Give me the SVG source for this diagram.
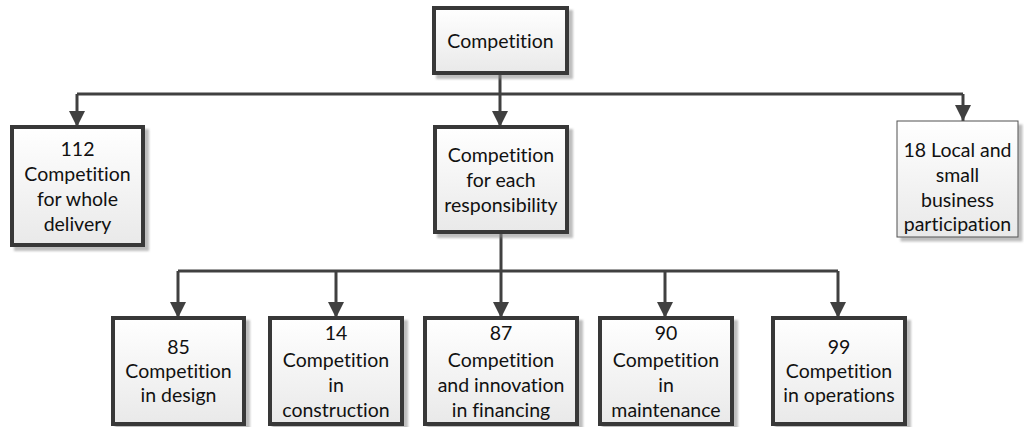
<svg xmlns="http://www.w3.org/2000/svg" width="1024" height="427" viewBox="0 0 1024 427">
  <style>
    .box { fill: url(#boxFill); stroke: #383838; stroke-width: 4; }
    .thin { fill: url(#boxFill); stroke: #505050; stroke-width: 1; }
    .lbl { font-family: Lato, "Liberation Sans", sans-serif; font-size: 19.5px; fill: #111; text-anchor: middle; font-variant-ligatures: none; font-feature-settings: "liga" 0, "clig" 0; }
    .wire { fill: none; stroke: #404040; stroke-width: 3; }
  </style>
  <defs>
    <linearGradient id="boxFill" x1="0" y1="0" x2="0" y2="1">
      <stop offset="0" stop-color="#ffffff"/>
      <stop offset="1" stop-color="#e9e9e9"/>
    </linearGradient>
    <filter id="shadow" x="-10%" y="-10%" width="130%" height="130%">
      <feDropShadow dx="4" dy="4" stdDeviation="1.2" flood-color="#888" flood-opacity="0.55"/>
    </filter>
    <marker id="arrow" markerUnits="userSpaceOnUse" markerWidth="16" markerHeight="16" viewBox="0 0 16 16" refX="16" refY="8" orient="auto">
      <path d="M0,0 L16,8 L0,16 Z" fill="#404040"/>
    </marker>
  </defs>

  <!-- connectors -->
  <g id="connectors">
    <path class="wire" d="M500,73 V94"/>
    <path class="wire" d="M77,94 H963"/>
    <path class="wire" d="M77,94 V127" marker-end="url(#arrow)"/>
    <path class="wire" d="M500,94 V127" marker-end="url(#arrow)"/>
    <path class="wire" d="M963,94 V121" marker-end="url(#arrow)"/>
    <path class="wire" d="M501,232 V271"/>
    <path class="wire" d="M178,271 H838"/>
    <path class="wire" d="M178,271 V318" marker-end="url(#arrow)"/>
    <path class="wire" d="M336,271 V318" marker-end="url(#arrow)"/>
    <path class="wire" d="M501,271 V318" marker-end="url(#arrow)"/>
    <path class="wire" d="M665,271 V318" marker-end="url(#arrow)"/>
    <path class="wire" d="M838,271 V318" marker-end="url(#arrow)"/>
  </g>

  <g id="competition">
    <rect class="box" x="434" y="8" width="133" height="65" filter="url(#shadow)"/>
    <text class="lbl" x="500.5" y="48">Competition</text>
  </g>

  <g id="whole-delivery">
    <rect class="box" x="12" y="127" width="131" height="118" filter="url(#shadow)"/>
    <text class="lbl" x="77.5" y="156">112</text>
    <text class="lbl" x="77.5" y="181">Competition</text>
    <text class="lbl" x="77.5" y="206">for whole</text>
    <text class="lbl" x="77.5" y="231">delivery</text>
  </g>

  <g id="each-responsibility">
    <rect class="box" x="435" y="127" width="132" height="105" filter="url(#shadow)"/>
    <text class="lbl" x="501" y="162">Competition</text>
    <text class="lbl" x="501" y="187">for each</text>
    <text class="lbl" x="501" y="212">responsibility</text>
  </g>

  <g id="local-small-business">
    <rect class="thin" x="897" y="121" width="121" height="116" filter="url(#shadow)"/>
    <text class="lbl" x="957.5" y="157">18 Local and</text>
    <text class="lbl" x="957.5" y="182">small</text>
    <text class="lbl" x="957.5" y="207">business</text>
    <text class="lbl" x="957.5" y="231">participation</text>
  </g>

  <g id="design">
    <rect class="box" x="113" y="318" width="131" height="106" filter="url(#shadow)"/>
    <text class="lbl" x="178.5" y="354">85</text>
    <text class="lbl" x="178.5" y="378">Competition</text>
    <text class="lbl" x="178.5" y="402">in design</text>
  </g>

  <g id="construction">
    <rect class="box" x="270" y="318" width="132" height="106" filter="url(#shadow)"/>
    <text class="lbl" x="336" y="340">14</text>
    <text class="lbl" x="336" y="367">Competition</text>
    <text class="lbl" x="336" y="392">in</text>
    <text class="lbl" x="336" y="417">construction</text>
  </g>

  <g id="financing">
    <rect class="box" x="425" y="318" width="152" height="106" filter="url(#shadow)"/>
    <text class="lbl" x="501" y="340">87</text>
    <text class="lbl" x="501" y="367">Competition</text>
    <text class="lbl" x="501" y="392">and innovation</text>
    <text class="lbl" x="501" y="417">in financing</text>
  </g>

  <g id="maintenance">
    <rect class="box" x="600" y="318" width="132" height="106" filter="url(#shadow)"/>
    <text class="lbl" x="666" y="340">90</text>
    <text class="lbl" x="666" y="367">Competition</text>
    <text class="lbl" x="666" y="392">in</text>
    <text class="lbl" x="666" y="417">maintenance</text>
  </g>

  <g id="operations">
    <rect class="box" x="773" y="318" width="132" height="106" filter="url(#shadow)"/>
    <text class="lbl" x="839" y="354">99</text>
    <text class="lbl" x="839" y="378">Competition</text>
    <text class="lbl" x="839" y="402">in operations</text>
  </g>
</svg>
